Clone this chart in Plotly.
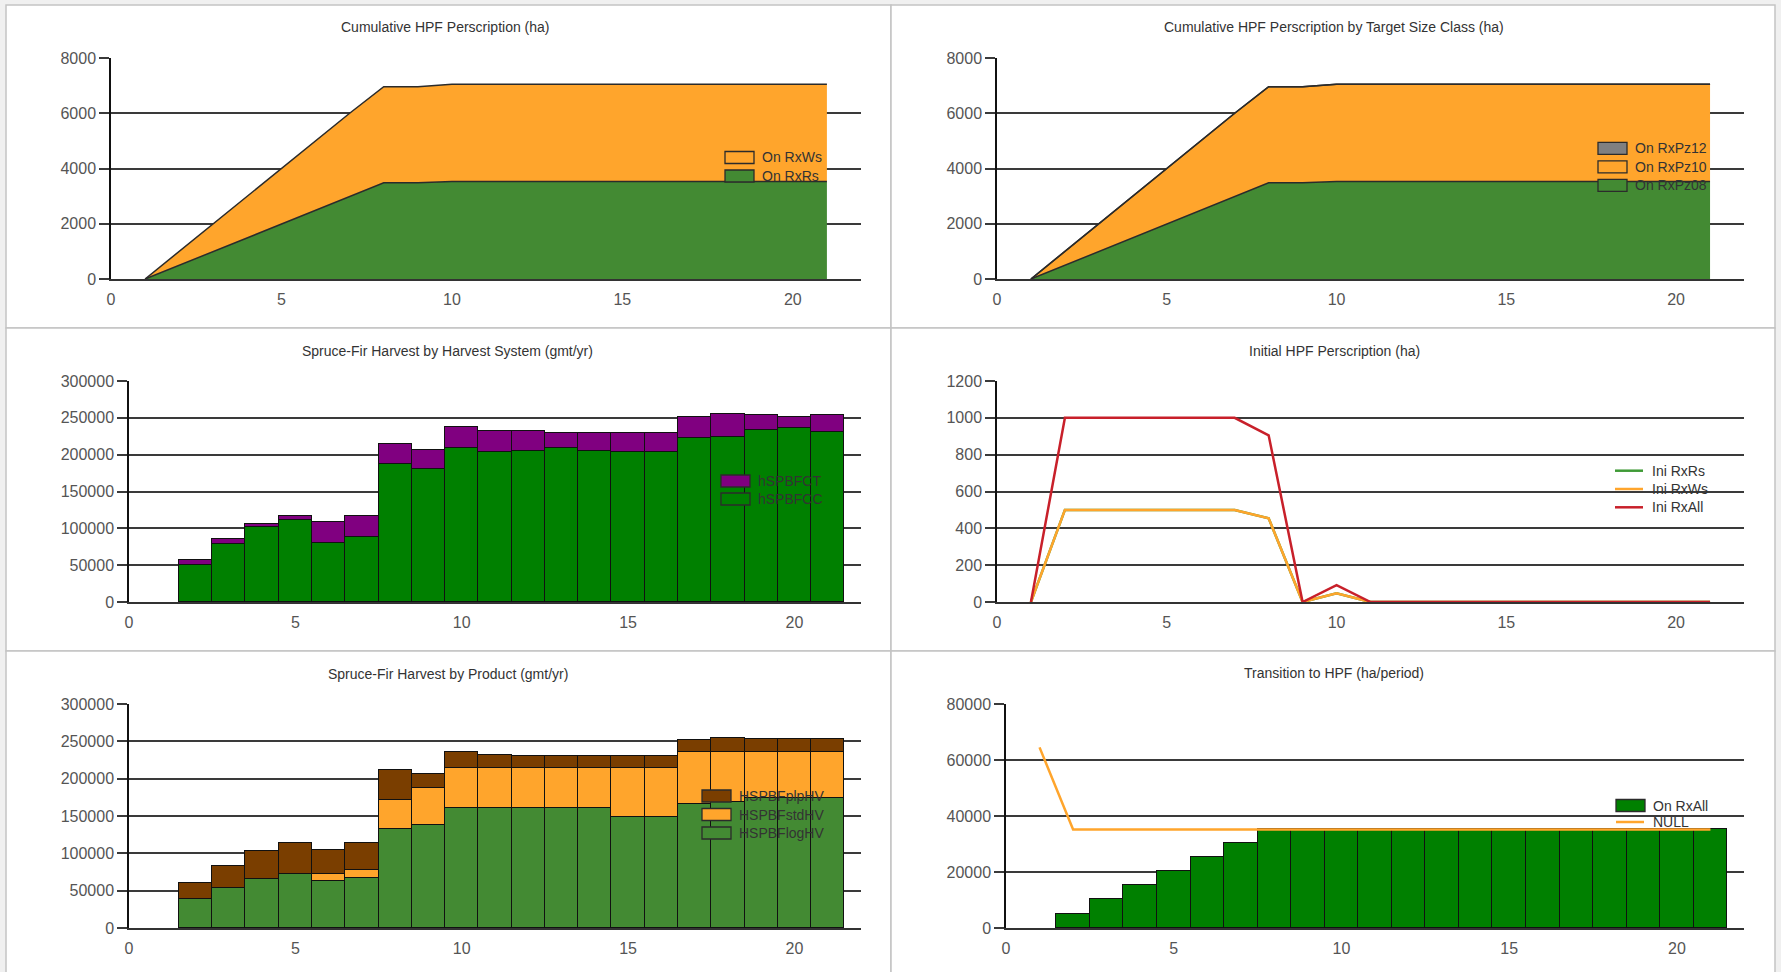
import plotly.graph_objects as go

W, H = 1781, 972
FONT = "Liberation Sans, Arial, sans-serif"

# ---- data ----
periods = list(range(1, 22))          # 1..21
bar_periods = list(range(2, 22))      # 2..21

# Cumulative HPF prescription (ha)
cum_on_rxrs = [0, 500, 1000, 1500, 2000, 2500, 3000, 3480, 3480, 3525,
               3525, 3525, 3525, 3525, 3525, 3525, 3525, 3525, 3525, 3525, 3525]
cum_on_rxws = [0, 500, 1000, 1500, 2000, 2500, 3000, 3480, 3480, 3525,
               3525, 3525, 3525, 3525, 3525, 3525, 3525, 3525, 3525, 3525, 3525]

# Cumulative by target size class (ha)
cum_on_rxpz08 = [0, 500, 1000, 1500, 2000, 2500, 3000, 3480, 3480, 3525,
                 3525, 3525, 3525, 3525, 3525, 3525, 3525, 3525, 3525, 3525, 3525]
cum_on_rxpz10 = [0, 500, 1000, 1500, 2000, 2500, 3000, 3480, 3480, 3525,
                 3525, 3525, 3525, 3525, 3525, 3525, 3525, 3525, 3525, 3525, 3525]
cum_on_rxpz12 = [0] * 21

# Spruce-fir harvest by harvest system (gmt/yr)
hspbfcc = [50600, 79100, 101700, 111600, 80400, 87700, 188000, 180300, 208700, 203800,
           205600, 208700, 205600, 203800, 203800, 223200, 224500, 233600, 235800, 230400]
hspbfct = [6300, 5800, 4500, 5000, 28500, 28400, 27100, 25700, 29400, 28400,
           26600, 21300, 24400, 26200, 26200, 28500, 30800, 19900, 15000, 23100]

# Initial HPF prescription (ha)
ini_rxrs = [0, 500, 500, 500, 500, 500, 500, 455, 0, 47,
            0, 0, 0, 0, 0, 0, 0, 0, 0, 0, 0]
ini_rxws = [0, 500, 500, 500, 500, 500, 500, 455, 0, 47,
            0, 0, 0, 0, 0, 0, 0, 0, 0, 0, 0]
ini_rxall = [0, 1000, 1000, 1000, 1000, 1000, 1000, 905, 0, 92,
             0, 0, 0, 0, 0, 0, 0, 0, 0, 0, 0]

# Spruce-fir harvest by product (gmt/yr)
hspbf_log = [38500, 53700, 65800, 72500, 62700, 67600, 132100, 137900, 160300, 160300,
             161200, 161200, 161200, 148200, 148200, 165700, 169300, 173700, 173700, 174600]
hspbf_std = [0, 0, 0, 0, 9800, 9900, 39400, 50200, 53700, 53700,
             52800, 52800, 52800, 65800, 65800, 69800, 66700, 62300, 62300, 61400]
hspbf_plp = [22400, 29600, 37200, 41200, 31800, 36200, 39800, 17900, 22000, 17900,
             15700, 15700, 15700, 15700, 15700, 15700, 18300, 17000, 17000, 17000]

# Transition to HPF (ha/period)
on_rxall = [5100, 10200, 15300, 20400, 25200, 30200, 35200, 35200, 35200, 35200,
            35200, 35200, 35200, 35200, 35200, 35200, 35200, 35200, 35200, 35200]
null_line = [64500] + [35200] * 20

titles = [
    "Cumulative HPF Perscription (ha)",
    "Cumulative HPF Perscription by Target Size Class (ha)",
    "Spruce-Fir Harvest by Harvest System (gmt/yr)",
    "Initial HPF Perscription (ha)",
    "Spruce-Fir Harvest by Product (gmt/yr)",
    "Transition to HPF (ha/period)",
]

# ---- colours ----
GREEN_AREA = "#438a33"
ORANGE = "#ffa52c"
GRAY = "#808080"
GREEN_BAR = "#008000"
PURPLE = "#800080"
BROWN = "#7a3e00"
RED = "#c8202a"
LINE_GREEN = "#3f9a36"
EDGE = "#2b2b2b"

# ---- layout geometry (pixels) ----
plots = [  # x0, x1, y0(top), y1(bottom)
    (111, 861, 58, 279),
    (997, 1744, 58, 279),
    (129, 861, 381, 602),
    (997, 1744, 381, 602),
    (129, 861, 704, 928),
    (1006, 1744, 704, 928),
]
yranges = [(8000, 2000), (8000, 2000), (300000, 50000), (1200, 200), (300000, 50000), (80000, 20000)]
title_pos = [(445, 27), (1334, 27), (448, 351), (1334, 351), (448, 674), (1334, 673)]


def px_x(v):
    return v / W


def px_y(v):
    return 1 - v / H


fig = go.Figure()
legend_items = {i: [] for i in range(1, 7)}   # panel -> [(kind, colour, name)]


def add(trace, panel, kind, colour):
    fig.add_trace(trace)
    legend_items[panel].append((kind, colour, trace.name))


# panel 1: cumulative areas
for vals, nm, col in [(cum_on_rxrs, "On RxRs", GREEN_AREA), (cum_on_rxws, "On RxWs", ORANGE)]:
    add(go.Scatter(x=periods, y=vals, name=nm, stackgroup="a1", mode="lines",
                   line=dict(color=EDGE, width=1.5), fillcolor=col,
                   xaxis="x", yaxis="y"), 1, "rect", col)

# panel 2: cumulative by size class
for vals, nm, col in [(cum_on_rxpz08, "On RxPz08", GREEN_AREA),
                      (cum_on_rxpz10, "On RxPz10", ORANGE),
                      (cum_on_rxpz12, "On RxPz12", GRAY)]:
    add(go.Scatter(x=periods, y=vals, name=nm, stackgroup="a2", mode="lines",
                   line=dict(color=EDGE, width=1.5), fillcolor=col,
                   xaxis="x2", yaxis="y2"), 2, "rect", col)

# panel 3: harvest by system
for vals, nm, col in [(hspbfcc, "hSPBFCC", GREEN_BAR), (hspbfct, "hSPBFCT", PURPLE)]:
    add(go.Bar(x=bar_periods, y=vals, name=nm, width=1,
               marker=dict(color=col, line=dict(color="#111111", width=1)),
               xaxis="x3", yaxis="y3"), 3, "rect", col)

# panel 4: initial prescription lines
for vals, nm, col in [(ini_rxrs, "Ini RxRs", LINE_GREEN),
                      (ini_rxws, "Ini RxWs", ORANGE),
                      (ini_rxall, "Ini RxAll", RED)]:
    add(go.Scatter(x=periods, y=vals, name=nm, mode="lines",
                   line=dict(color=col, width=2.5),
                   xaxis="x4", yaxis="y4"), 4, "line", col)

# panel 5: harvest by product
for vals, nm, col in [(hspbf_log, "HSPBFlogHV", GREEN_AREA),
                      (hspbf_std, "HSPBFstdHV", ORANGE),
                      (hspbf_plp, "HSPBFplpHV", BROWN)]:
    add(go.Bar(x=bar_periods, y=vals, name=nm, width=1,
               marker=dict(color=col, line=dict(color="#111111", width=1)),
               xaxis="x5", yaxis="y5"), 5, "rect", col)

# panel 6: transition
add(go.Bar(x=bar_periods, y=on_rxall, name="On RxAll", width=1,
           marker=dict(color=GREEN_BAR, line=dict(color="#111111", width=1)),
           xaxis="x6", yaxis="y6"), 6, "rect", GREEN_BAR)
add(go.Scatter(x=periods, y=null_line, name="NULL", mode="lines",
               line=dict(color=ORANGE, width=2.5),
               xaxis="x6", yaxis="y6"), 6, "line", ORANGE)

layout = dict(
    width=W, height=H, margin=dict(l=0, r=0, t=0, b=0),
    paper_bgcolor="#f0f0f0", plot_bgcolor="white",
    barmode="stack", bargap=0, showlegend=False,
    font=dict(family=FONT, color="#333333"),
)

for i, ((x0, x1, y0, y1), (ymax, dt)) in enumerate(zip(plots, yranges), start=1):
    sfx = "" if i == 1 else str(i)
    layout["xaxis" + sfx] = dict(
        domain=[px_x(x0), px_x(x1)], anchor="y" + sfx, range=[0, 22], automargin=False,
        tick0=0, dtick=5, showgrid=False, zeroline=False,
        showline=True, linecolor="#333333", linewidth=1.5,
        ticks="outside", ticklen=5, tickcolor="rgba(0,0,0,0)",
        tickfont=dict(size=16, color="#555555", family=FONT),
    )
    layout["yaxis" + sfx] = dict(
        domain=[px_y(y1), px_y(y0)], anchor="x" + sfx, range=[0, ymax], automargin=False,
        tick0=0, dtick=dt, tickformat="d", showgrid=True, gridcolor="#3a3a3a", gridwidth=1.5,
        zeroline=False, showline=True, linecolor="#111111", linewidth=1.5,
        ticks="outside", ticklen=10, tickwidth=1.5, tickcolor="#3a3a3a",
        tickfont=dict(size=16, color="#555555", family=FONT),
    )

fig.update_layout(**layout)

# panel frames
panels = [(6, 891, 5, 328), (891, 1775, 5, 328),
          (6, 891, 328, 651), (891, 1775, 328, 651),
          (6, 891, 651, 990), (891, 1775, 651, 990)]
for (a, b, c, d) in panels:
    fig.add_shape(type="rect", xref="paper", yref="paper",
                  x0=px_x(a), x1=px_x(b), y0=px_y(d), y1=px_y(c),
                  fillcolor="white", line=dict(color="#c4c4c4", width=1.5), layer="below")

for t, (tx, ty) in zip(titles, title_pos):
    fig.add_annotation(text=t, x=px_x(tx), y=px_y(ty), xref="paper", yref="paper",
                       xanchor="center", yanchor="middle", showarrow=False,
                       font=dict(size=14, color="#333333", family=FONT))

# legends: symbol left edge, first-row centre, row step, order (top row = last series
# for stacked panels)
legend_boxes = {
    1: (725, 157.5, 18.5, True),
    2: (1598, 148.3, 18.5, True),
    3: (721, 481, 18, True),
    4: (1615, 470.7, 18.3, False),
    5: (702, 796, 18.5, True),
    6: (1616, 805.5, 16.5, False),
}
for panel, (sx, y_first, step, rev) in legend_boxes.items():
    items = legend_items[panel][::-1] if rev else legend_items[panel]
    for k, (kind, col, name) in enumerate(items):
        yc = y_first + k * step
        if kind == "rect":
            fig.add_shape(type="rect", xref="paper", yref="paper",
                          x0=px_x(sx), x1=px_x(sx + 29), y0=px_y(yc + 6), y1=px_y(yc - 6),
                          fillcolor=col, line=dict(color=EDGE, width=1.3))
        else:
            fig.add_shape(type="line", xref="paper", yref="paper",
                          x0=px_x(sx), x1=px_x(sx + 28), y0=px_y(yc), y1=px_y(yc),
                          line=dict(color=col, width=2.5))
        fig.add_annotation(text=name, x=px_x(sx + 35), y=px_y(yc), xref="paper", yref="paper",
                           xanchor="left", yanchor="middle", showarrow=False,
                           font=dict(size=14, color="#333333", family=FONT))

fig.write_html("out.html")
